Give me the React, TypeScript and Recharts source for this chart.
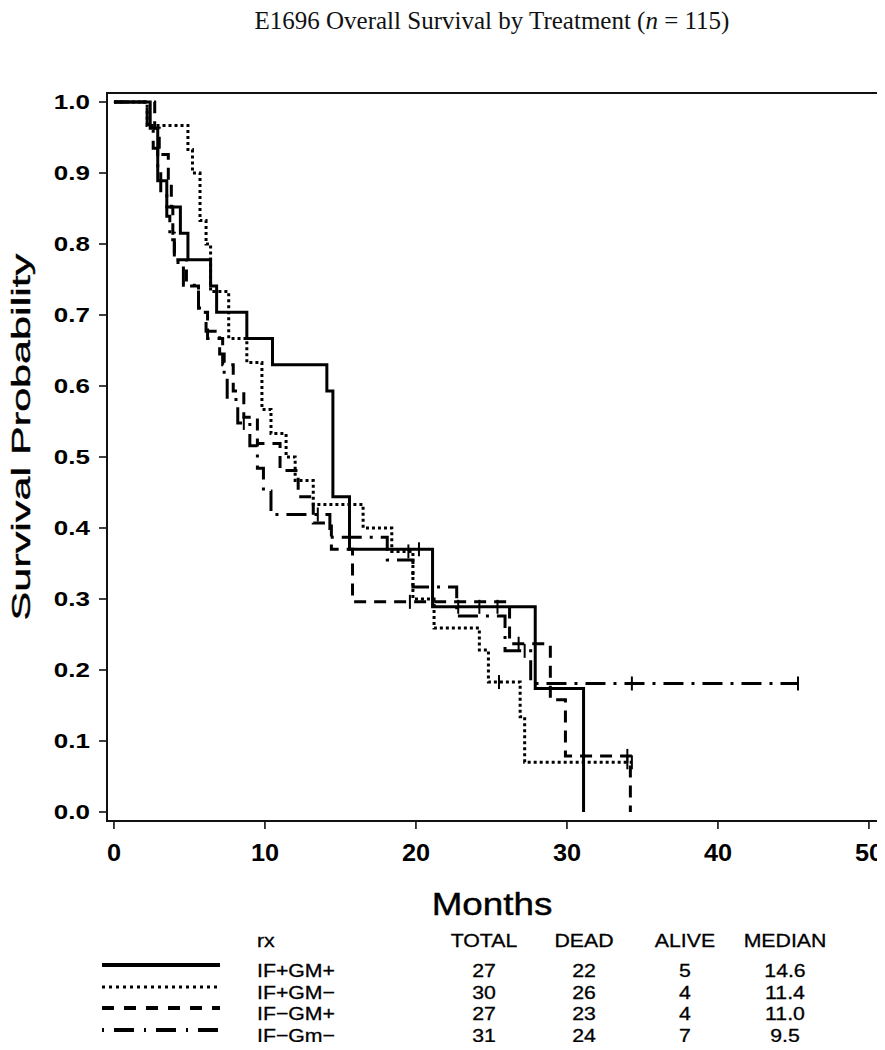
import { ComposedChart, Line, Scatter, XAxis, YAxis } from "recharts"

// Kaplan-Meier steps: [month, survival]
const ifPlusGmPlus = [
  [0, 1], [2.4, 0.963], [2.9, 0.889], [3.5, 0.852], [4.4, 0.815], [4.9, 0.778],
  [6.4, 0.741], [6.8, 0.704], [8.8, 0.667], [10.5, 0.63], [14.1, 0.593], [14.5, 0.444],
  [15.6, 0.37], [21.1, 0.289], [27.9, 0.174], [31.1, 0],
]
const ifPlusGmMinus = [
  [0, 1], [2.2, 0.967], [4.9, 0.933], [5.2, 0.9], [5.7, 0.833], [6.1, 0.8], [6.4, 0.733],
  [7.6, 0.667], [8.8, 0.633], [9.8, 0.567], [10.4, 0.533], [11.4, 0.5], [12.0, 0.467],
  [13.2, 0.433], [16.5, 0.4], [18.4, 0.367], [19.8, 0.3], [21.2, 0.259], [24.2, 0.228],
  [24.8, 0.183], [26.9, 0.134], [27.2, 0.07], [34.3, 0.07],
]
const ifMinusGmPlus = [
  [0, 1], [2.7, 0.963], [3.0, 0.926], [3.6, 0.889], [3.8, 0.852], [3.9, 0.815], [4.0, 0.778],
  [4.8, 0.741], [5.6, 0.704], [6.2, 0.667], [7.2, 0.63], [7.9, 0.593], [8.6, 0.556],
  [9.5, 0.519], [11.0, 0.481], [12.2, 0.444], [13.2, 0.407], [14.4, 0.37], [15.8, 0.296],
  [26.2, 0.237], [28.9, 0.158], [29.9, 0.079], [34.2, 0],
]
const ifMinusGmMinus = [
  [0, 1], [2.2, 0.968], [2.6, 0.935], [2.9, 0.903], [3.1, 0.871], [3.5, 0.839], [3.7, 0.806],
  [4.0, 0.774], [4.6, 0.742], [5.6, 0.71], [6.1, 0.677], [7.0, 0.645], [7.3, 0.613],
  [7.5, 0.581], [8.2, 0.548], [9.0, 0.516], [9.5, 0.484], [9.9, 0.452], [10.4, 0.419],
  [14.3, 0.387], [18.1, 0.355], [19.8, 0.317], [22.7, 0.276], [25.9, 0.227], [27.6, 0.181],
  [45.3, 0.181],
]

// censoring marks
const censorA = [[20.2, 0.37], [22.8, 0.289], [24.2, 0.289], [25.4, 0.289]]
const censorB = [[19.5, 0.367], [25.5, 0.183], [34.0, 0.07], [34.3, 0.07]]
const censorC = [[19.6, 0.296], [26.8, 0.237], [34.0, 0.079]]
const censorD = [[8.6, 0.548], [13.5, 0.419], [27.2, 0.227], [34.3, 0.181], [45.3, 0.181]]

const xTicks = [0, 10, 20, 30, 40, 50]
const yTicks = [0, 0.1, 0.2, 0.3, 0.4, 0.5, 0.6, 0.7, 0.8, 0.9, 1.0]
const xDomain = [-0.46, 50.6]
const yDomain = [-0.0127, 1.0127]

const rxLabels = ["IF+GM+", "IF+GM\u2212", "IF\u2212GM+", "IF\u2212Gm\u2212"]
const totals = [27, 30, 27, 31]
const deads = [22, 26, 23, 24]
const alives = [5, 4, 4, 7]
const medians = ["14.6", "11.4", "11.0", "9.5"]

const toPts = (rows: number[][]) => rows.map(([t, s]) => ({ t, s }))

const SANS = "'Liberation Sans', Arial, Helvetica, sans-serif"
const FRAME = { stroke: "#111", strokeWidth: 2 }
const TICKLINE = { stroke: "#000", strokeWidth: 1.5 }

// chart box (margins + axis sizes), shared by the chart and the frame overlay
const W = 885
const H = 920
const M = { top: 85, right: 15, left: 0, bottom: 52 }
const Y_W = 99
const X_H = 55
const plotX = M.left + Y_W
const plotY = M.top
const plotW = W - M.left - M.right - Y_W
const plotH = H - M.top - M.bottom - X_H

const styles = [
  { width: 3, dash: undefined, legendWidth: 4, legendDash: undefined },
  { width: 3, dash: "3 3", legendWidth: 3, legendDash: "3 4" },
  { width: 3, dash: "12 8", legendWidth: 4, legendDash: "12 10" },
  { width: 3, dash: "20 8 3 8", legendWidth: 4, legendDash: "2 10 20 10" },
]

const series = [ifPlusGmPlus, ifPlusGmMinus, ifMinusGmPlus, ifMinusGmMinus].map(toPts)
const censors = [censorA, censorB, censorC, censorD].map(toPts)

function YTick({ x, y, payload }: any) {
  return (
    <text
      transform={`translate(${x},${y}) scale(1.3,1)`}
      textAnchor="end"
      dy="0.36em"
      fontSize={20}
      fontWeight="bold"
      fontFamily={SANS}
      fill="#000"
    >
      {Number(payload.value).toFixed(1)}
    </text>
  )
}

function XTick({ x, y, payload }: any) {
  return (
    <text
      transform={`translate(${x},${y + 22}) scale(1.1,1)`}
      textAnchor="middle"
      dy="0.36em"
      fontSize={23}
      fontWeight="bold"
      fontFamily={SANS}
      fill="#000"
    >
      {payload.value}
    </text>
  )
}

const CensorMark = (props: any) => {
  const { cx, cy } = props
  return <line x1={cx} x2={cx} y1={cy - 7} y2={cy + 7} stroke="#000" strokeWidth={2} />
}

function T({ x, y, children, anchor = "middle", size = 19, sx = 1.12 }: any) {
  return (
    <text
      transform={`translate(${x},${y}) scale(${sx},1)`}
      textAnchor={anchor}
      dy="0.36em"
      fontSize={size}
      fontFamily={SANS}
      fill="#000"
      stroke="#000"
      strokeWidth={0.3}
    >
      {children}
    </text>
  )
}

const rowY = [962, 984, 1005, 1027]
const colX = [476, 576, 677, 777]

export default function App() {
  return (
    <div style={{ position: "relative", width: 877, height: 1034 }}>
      <style>{"html,body{overflow:hidden}"}</style>
      <ComposedChart width={W} height={H} margin={M}>
        <XAxis
          dataKey="t"
          type="number"
          domain={xDomain}
          allowDataOverflow
          ticks={xTicks}
          tickSize={8}
          axisLine={FRAME}
          tickLine={TICKLINE}
          tick={<XTick />}
          height={X_H}
        />
        <YAxis
          type="number"
          domain={yDomain}
          allowDataOverflow
          ticks={yTicks}
          tickSize={8}
          tickMargin={9}
          axisLine={FRAME}
          tickLine={TICKLINE}
          tick={<YTick />}
          width={Y_W}
        />
        {series.map((data, i) => (
          <Line
            key={rxLabels[i]}
            data={data}
            dataKey="s"
            type="stepAfter"
            stroke="#000"
            strokeWidth={styles[i].width}
            strokeDasharray={styles[i].dash}
            dot={false}
            activeDot={false}
            isAnimationActive={false}
          />
        ))}
        {censors.map((data, i) => (
          <Scatter
            key={"c" + i}
            data={data}
            dataKey="s"
            shape={<CensorMark />}
            isAnimationActive={false}
          />
        ))}
      </ComposedChart>

      <svg
        width={W}
        height={1042}
        style={{ position: "absolute", left: 0, top: 0, pointerEvents: "none", overflow: "visible" }}
      >
        <rect x={plotX} y={plotY} width={plotW} height={plotH} fill="none" {...FRAME} />
        <text
          x={484}
          y={21}
          textAnchor="middle"
          fontSize={25}
          fontFamily="'Liberation Serif', 'Times New Roman', serif"
          fill="#111"
        >
          E1696 Overall Survival by Treatment (<tspan fontStyle="italic">n</tspan> = 115)
        </text>
        <text
          transform="translate(22,429) rotate(-90) scale(1.66,1)"
          textAnchor="middle"
          fontSize={26}
          fontFamily={SANS}
          fill="#000"
          stroke="#000"
          strokeWidth={0.4}
        >
          Survival Probability
        </text>
        <text
          transform="translate(484,907) scale(1.15,1)"
          textAnchor="middle"
          fontSize={32}
          fontFamily={SANS}
          fill="#000"
          stroke="#000"
          strokeWidth={0.4}
        >
          Months
        </text>

        <T x={249} y={932} anchor="start">rx</T>
        <T x={colX[0]} y={932}>TOTAL</T>
        <T x={colX[1]} y={932}>DEAD</T>
        <T x={colX[2]} y={932}>ALIVE</T>
        <T x={colX[3]} y={932}>MEDIAN</T>

        {rxLabels.map((lab, i) => (
          <g key={lab}>
            <line
              x1={94}
              x2={212}
              y1={rowY[i] - 5}
              y2={rowY[i] - 5}
              stroke="#000"
              strokeWidth={styles[i].legendWidth}
              strokeDasharray={styles[i].legendDash}
            />
            <T x={249} y={rowY[i]} anchor="start">{lab}</T>
            <T x={colX[0]} y={rowY[i]}>{totals[i]}</T>
            <T x={colX[1]} y={rowY[i]}>{deads[i]}</T>
            <T x={colX[2]} y={rowY[i]}>{alives[i]}</T>
            <T x={colX[3]} y={rowY[i]}>{medians[i]}</T>
          </g>
        ))}
      </svg>
    </div>
  )
}
